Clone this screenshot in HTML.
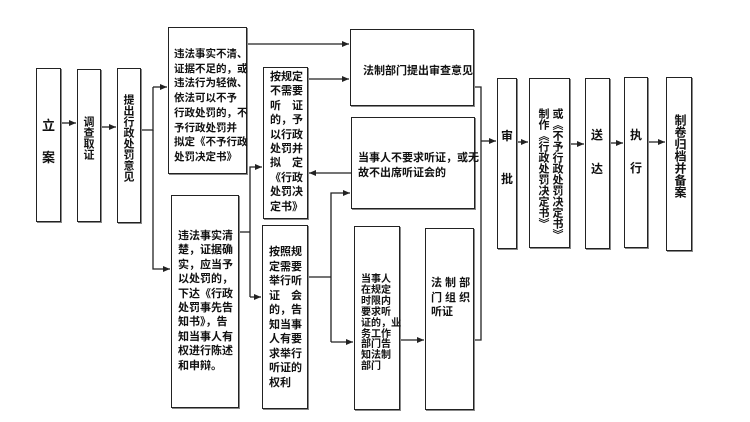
<!DOCTYPE html>
<html><head><meta charset="utf-8"><style>
body{margin:0;width:750px;height:422px;background:#fff;position:relative;overflow:hidden;font-family:"Liberation Sans","Noto Sans CJK SC",sans-serif;font-weight:bold;color:#111}
.b{position:absolute;border:1.5px solid #222;box-sizing:border-box;box-shadow:1px 1px 0 #888}
.t{position:absolute;font-size:12px;white-space:nowrap}
.v{position:absolute;writing-mode:vertical-rl;font-size:13px;white-space:nowrap}
svg{position:absolute;left:0;top:0}
</style></head><body>
<svg width="750" height="422" stroke="#222" stroke-width="1.3" fill="none">
<defs><marker id="a" markerWidth="8" markerHeight="8" refX="7" refY="4" orient="auto" markerUnits="userSpaceOnUse"><path d="M0,1 L7,4 L0,7z" fill="#222" stroke="none"/></marker></defs>
<line x1="61" y1="123" x2="76" y2="123" marker-end="url(#a)"/>
<line x1="101" y1="127" x2="116" y2="127" marker-end="url(#a)"/>
<polyline points="141,130 153,130 153,87"/>
<line x1="153" y1="87" x2="167" y2="87" marker-end="url(#a)"/>
<polyline points="153,130 153,269 170,269" marker-end="url(#a)"/>
<line x1="247" y1="44" x2="349" y2="44" marker-end="url(#a)"/>
<line x1="308" y1="79" x2="349" y2="79" marker-end="url(#a)"/>
<line x1="351" y1="173" x2="309" y2="173" marker-end="url(#a)"/>
<polyline points="239,232 250,232"/>
<polyline points="250,297 250,167 262,167" marker-end="url(#a)"/>
<line x1="250" y1="297" x2="261" y2="297" marker-end="url(#a)"/>
<polyline points="308,277 331,277"/>
<polyline points="331,342 331,193 350,193" marker-end="url(#a)"/>
<line x1="331" y1="342" x2="353" y2="342" marker-end="url(#a)"/>
<line x1="400" y1="340" x2="424" y2="340" marker-end="url(#a)"/>
<polyline points="474,87 481,87 481,340 474,340"/>
<line x1="481" y1="141" x2="496" y2="141" marker-end="url(#a)"/>
<line x1="517" y1="142" x2="528" y2="142" marker-end="url(#a)"/>
<line x1="570" y1="144" x2="584" y2="144" marker-end="url(#a)"/>
<line x1="610" y1="143" x2="623" y2="143" marker-end="url(#a)"/>
<line x1="648" y1="142" x2="665" y2="142" marker-end="url(#a)"/>
</svg>
<div class="b" style="left:36px;top:68px;width:25px;height:154px"></div>
<div class="t" style="left:42px;top:115px;font-size:13px">立</div>
<div class="t" style="left:42px;top:147px;font-size:13px">案</div>
<div class="b" style="left:77px;top:69px;width:24px;height:153px"></div>
<div class="v" style="left:81px;top:116px;font-size:11px;line-height:14px">调查取证</div>
<div class="b" style="left:117px;top:68px;width:24px;height:155px"></div>
<div class="v" style="left:121px;top:94px;font-size:11px;line-height:14px">提出行政处罚意见</div>

<div class="b" style="left:168px;top:27px;width:79px;height:147px"></div>
<div class="t" style="left:174px;top:47px;line-height:14.7px;font-size:10.5px">违法事实不清、<br>证据不足的，或<br>违法行为轻微、<br>依法可以不予<br>行政处罚的，不<br>予行政处罚并<br>拟定《不予行政<br>处罚决定书》</div>
<div class="b" style="left:171px;top:195px;width:68px;height:213px"></div>
<div class="t" style="left:178px;top:229px;line-height:14.4px;font-size:11px">违法事实清<br>楚，证据确<br>实，应当予<br>以处罚的，<br>下达《行政<br>处罚事先告<br>知书》，告<br>知当事人有<br>权进行陈述<br>和申辩。</div>
<div class="b" style="left:263px;top:67px;width:45px;height:152px"></div>
<div class="t" style="left:270px;top:70px;line-height:14.4px;font-size:11px">按规定<br>不需要<br>听　证<br>的，予<br>以行政<br>处罚并<br>拟　定<br>《行政<br>处罚决<br>定书》</div>
<div class="b" style="left:262px;top:225px;width:46px;height:184px"></div>
<div class="t" style="left:269px;top:245px;line-height:14.5px;font-size:11px">按照规<br>定需要<br>举行听<br>证　会<br>的，告<br>知当事<br>人有要<br>求举行<br>听证的<br>权利</div>

<div class="b" style="left:350px;top:29px;width:124px;height:77px"></div>
<div class="t" style="left:363px;top:62px;font-size:11px">法制部门提出审查意见</div>
<div class="b" style="left:351px;top:117px;width:124px;height:92px"></div>
<div class="t" style="left:358px;top:151px;line-height:15px;font-size:11px">当事人不要求听证，或无<br>故不出席听证会的</div>
<div class="b" style="left:354px;top:226px;width:46px;height:184px"></div>
<div class="t" style="left:361px;top:275px;line-height:10.9px;font-size:10px">当事人<br>在规定<br>时限内<br>要求听<br>证的，业<br>务工作<br>部门告<br>知法制<br>部门</div>
<div class="b" style="left:425px;top:228px;width:49px;height:182px"></div>
<div class="t" style="left:431px;top:276px;line-height:14.5px;font-size:11px">法 制 部<br>门 组 织<br>听证</div>

<div class="b" style="left:497px;top:78px;width:20px;height:171px"></div>
<div class="t" style="left:501px;top:127px;font-size:12px">审</div>
<div class="t" style="left:501px;top:170px;font-size:12px">批</div>
<div class="b" style="left:529px;top:78px;width:41px;height:170px"></div>
<div class="v" style="left:536px;top:108px;font-size:11px;line-height:14px">或《不予行政处罚决定书》<br>制作《行政处罚决定书》</div>
<div class="b" style="left:585px;top:78px;width:25px;height:171px"></div>
<div class="t" style="left:591px;top:126px;font-size:12px">送</div>
<div class="t" style="left:591px;top:160px;font-size:12px">达</div>
<div class="b" style="left:624px;top:77px;width:24px;height:171px"></div>
<div class="t" style="left:630px;top:126px;font-size:12px">执</div>
<div class="t" style="left:630px;top:159px;font-size:12px">行</div>
<div class="b" style="left:666px;top:77px;width:26px;height:174px"></div>
<div class="v" style="left:672px;top:114px;font-size:12px">制卷归档并备案</div>
</body></html>
